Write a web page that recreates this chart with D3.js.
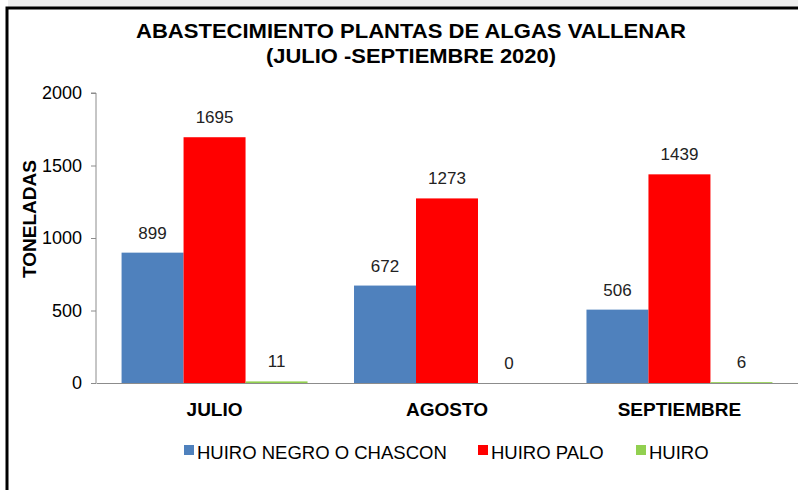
<!DOCTYPE html>
<html lang="es">
<head>
  <meta charset="UTF-8">
  <title>Abastecimiento plantas de algas Vallenar</title>
  <script src="https://d3js.org/d3.v7.min.js"></script>
  <style>
    body { margin: 0; background: #fff; font-family: 'Liberation Sans', Arial, sans-serif; }
    svg { display: block; }
    .axis path, .axis line { stroke: #8c8c8c; }
  </style>
</head>
<body>
  <div id="chart"></div>
  <script>
    // data
    const months = ["JULIO", "AGOSTO", "SEPTIEMBRE"];
    const seriesNames = ["HUIRO NEGRO O CHASCON", "HUIRO PALO", "HUIRO"];
    const huiroNegro = [899, 672, 506];
    const huiroPalo = [1695, 1273, 1439];
    const huiro = [11, 0, 6];
    const yTicks = [0, 500, 1000, 1500, 2000];
    const colors = ["#4f81bd", "#ff0000", "#92d050"];

    const W = 798, H = 490;
    const margin = { top: 93, right: 0, bottom: 107, left: 96 };
    const width = W - margin.left - margin.right,
      height = H - margin.top - margin.bottom;
    const font = "'Liberation Sans', Arial, sans-serif";

    const svg = d3.select("#chart").append("svg")
      .attr("width", W).attr("height", H)
      .attr("font-family", font);

    // frame
    svg.append("rect").attr("x", 8).attr("y", 0).attr("width", W - 8).attr("height", 7).attr("fill", "#efefef");
    svg.append("path").attr("d", `M7,${H} V8 H${W}`).attr("fill", "none").attr("stroke", "#000").attr("stroke-width", 3);

    // title
    const title = svg.append("text").attr("text-anchor", "middle")
      .attr("font-weight", "bold").attr("font-size", 20).attr("fill", "#000");
    title.append("tspan").attr("x", 411).attr("y", 38).attr("textLength", 550).attr("lengthAdjust", "spacingAndGlyphs")
      .text("ABASTECIMIENTO PLANTAS DE ALGAS VALLENAR");
    title.append("tspan").attr("x", 411).attr("y", 63).attr("textLength", 290).attr("lengthAdjust", "spacingAndGlyphs")
      .text("(JULIO -SEPTIEMBRE 2020)");

    const g = svg.append("g").attr("transform", `translate(${margin.left},${margin.top})`);

    const x0 = d3.scaleBand().domain(months).range([0, width]).paddingInner(0.2).paddingOuter(0.11);
    const x1 = d3.scaleBand().domain(seriesNames).range([0, x0.bandwidth()]);
    const y = d3.scaleLinear().domain([0, 2000]).range([height, 0]);

    const yAxis = g.append("g").attr("class", "axis")
      .call(d3.axisLeft(y).tickValues(yTicks).tickFormat(d3.format("d")).tickSize(5).tickPadding(9));
    yAxis.select(".domain").attr("d", `M-5,0H0V${height}`);
    yAxis.selectAll("text").attr("font-size", 18).attr("fill", "#000").attr("font-family", font);

    g.append("text")
      .attr("transform", `translate(${29 - margin.left},${219 - margin.top}) rotate(-90)`)
      .attr("text-anchor", "middle").attr("dy", "0.35em")
      .attr("font-weight", "bold").attr("font-size", 19)
      .text("TONELADAS");

    const series = [huiroNegro, huiroPalo, huiro];
    const rows = months.map((m, i) => ({
      month: m,
      values: seriesNames.map((s, j) => ({ key: s, value: series[j][i], color: colors[j] }))
    }));

    const groups = g.selectAll(".grp").data(rows).join("g")
      .attr("transform", d => `translate(${x0(d.month)},0)`);

    groups.selectAll("rect").data(d => d.values).join("rect")
      .attr("x", d => x1(d.key))
      .attr("y", d => y(d.value))
      .attr("width", x1.bandwidth())
      .attr("height", d => height - y(d.value))
      .attr("fill", d => d.color);

    groups.selectAll(".val").data(d => d.values).join("text")
      .attr("class", "val")
      .attr("x", d => x1(d.key) + x1.bandwidth() / 2)
      .attr("y", d => y(d.value) - 14)
      .attr("text-anchor", "middle")
      .attr("font-size", 17).attr("fill", "#222")
      .text(d => d.value);

    // x axis line
    const xAxis = g.append("g").attr("class", "axis").attr("transform", `translate(0,${height})`)
      .call(d3.axisBottom(x0).tickSize(0).tickPadding(20));
    xAxis.selectAll("text").attr("font-size", 19).attr("font-weight", "bold").attr("fill", "#000").attr("font-family", font);

    // legend
    const legendX = [184, 478, 636];
    const legend = svg.selectAll(".leg").data(seriesNames).join("g")
      .attr("transform", (d, i) => `translate(${legendX[i]},445)`);
    legend.append("rect").attr("width", 10).attr("height", 10).attr("fill", (d, i) => colors[i]);
    legend.append("text").attr("x", 13).attr("y", 14).attr("font-size", 18.5).attr("fill", "#000").text(d => d);
  </script>
</body>
</html>
